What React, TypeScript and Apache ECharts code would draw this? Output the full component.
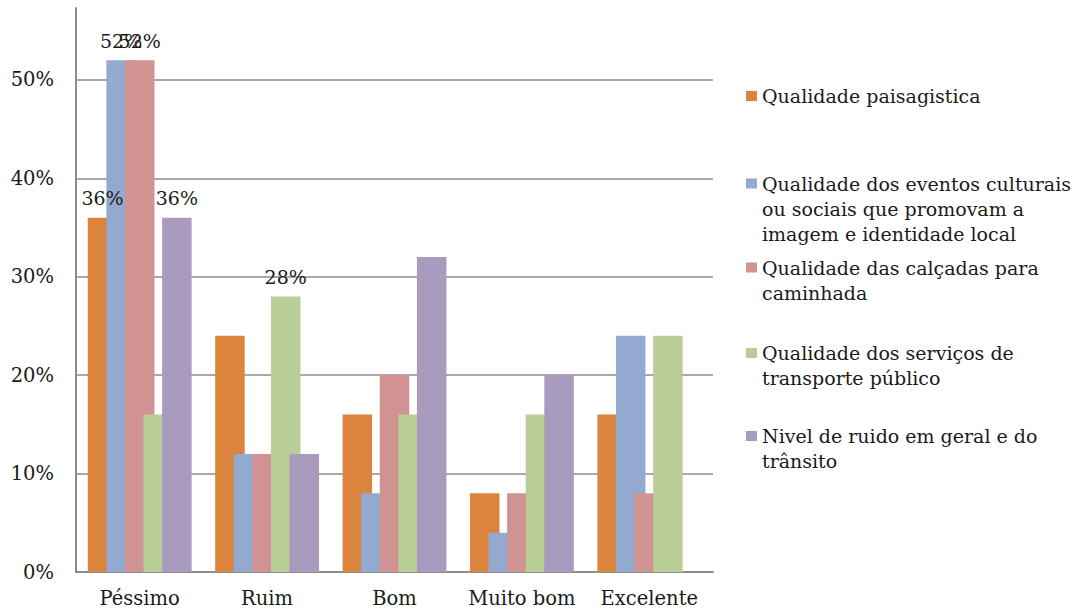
import React, { useEffect, useRef } from "react";
import * as echarts from "echarts";

const categories = ["Péssimo", "Ruim", "Bom", "Muito bom", "Excelente"];

const seriesNames = [
  "Qualidade paisagistica",
  "Qualidade dos eventos culturais\nou sociais que promovam a\nimagem e identidade local",
  "Qualidade das calçadas para\ncaminhada",
  "Qualidade dos serviços de\ntransporte público",
  "Nivel de ruido em geral e do\ntrânsito",
];

const paisagistica = [36, 24, 16, 8, 16];
const eventos = [52, 12, 8, 4, 24];
const calcadas = [52, 12, 20, 8, 8];
const transporte = [16, 28, 16, 16, 24];
const ruido = [36, 12, 32, 20, 0];

const seriesValues = [paisagistica, eventos, calcadas, transporte, ruido];
const seriesColors = ["#DB843D", "#93A9CF", "#D19392", "#B9CD96", "#A99BBD"];

// [series index, category index] of bars that carry a value label
const labelledBars = [
  [0, 0],
  [1, 0],
  [2, 0],
  [4, 0],
  [3, 1],
];

const yTicks = [0, 10, 20, 30, 40, 50];
const legendIconCenters = [96, 183.5, 267.5, 353, 436];

const FONT = "DejaVu Serif";
const LH = 25;

export default function App() {
  const ref = useRef<HTMLDivElement>(null);

  useEffect(() => {
    if (!ref.current) return;
    const chart = echarts.init(ref.current, undefined, { renderer: "svg" });

    const series = seriesValues.map((vals, si) => ({
      type: "bar",
      name: seriesNames[si],
      barWidth: 29.5,
      barGap: "-37%",
      itemStyle: { color: seriesColors[si] },
      data: vals.map((v, ci) => {
        const show = labelledBars.some(([s, c]) => s === si && c === ci);
        return {
          value: v,
          label: {
            show,
            position: "top",
            distance: 10,
            formatter: (p: any) => `${p.value}%`,
            fontFamily: FONT,
            fontSize: 19,
            color: "#1a1a1a",
          },
        };
      }),
    }));

    const legends = seriesNames.map((name, i) => {
      const n = name.split("\n").length;
      const top = legendIconCenters[i] - ((2 * n - 1) * LH) / 2;
      return {
        show: true,
        orient: "vertical",
        left: 746,
        top,
        padding: 0,
        itemWidth: 11,
        itemHeight: 10,
        itemGap: 0,
        selectedMode: false,
        icon: "rect",
        data: [name],
        formatter: (nm: string) => "\n".repeat(n - 1) + nm,
        textStyle: {
          fontFamily: FONT,
          fontSize: 19,
          color: "#1a1a1a",
          lineHeight: LH,
        },
      };
    });

    chart.setOption({
      animation: false,
      backgroundColor: "#ffffff",
      grid: { left: 76, right: 363, top: 8, bottom: 40, containLabel: false },
      legend: legends,
      xAxis: {
        type: "category",
        data: categories,
        axisLine: { show: true, lineStyle: { color: "#8c8c8c", width: 2 } },
        axisTick: { show: false },
        axisLabel: {
          fontFamily: FONT,
          fontSize: 19.5,
          color: "#1a1a1a",
          margin: 16,
          interval: 0,
        },
      },
      yAxis: {
        type: "value",
        min: 0,
        max: 57.3,
        interval: 10,
        axisLine: { show: true, lineStyle: { color: "#8c8c8c", width: 2 } },
        axisTick: { show: false },
        axisLabel: {
          fontFamily: FONT,
          fontSize: 19.5,
          color: "#1a1a1a",
          margin: 22,
          showMaxLabel: false,
          formatter: (v: number) =>
            yTicks.includes(Math.round(v)) && Math.abs(v - Math.round(v)) < 1e-6
              ? `${Math.round(v)}%`
              : "",
        },
        splitLine: {
          show: true,
          showMaxLine: false,
          lineStyle: {
            color: [
              "#8c8c8c",
              "#8c8c8c",
              "#8c8c8c",
              "#8c8c8c",
              "#8c8c8c",
              "#8c8c8c",
              "rgba(0,0,0,0)",
            ],
            width: 1.5,
          },
        },
      },
      series,
    });

    return () => chart.dispose();
  }, []);

  return (
    <div
      ref={ref}
      style={{ position: "fixed", left: 0, top: 0, width: 1076, height: 612 }}
    />
  );
}
